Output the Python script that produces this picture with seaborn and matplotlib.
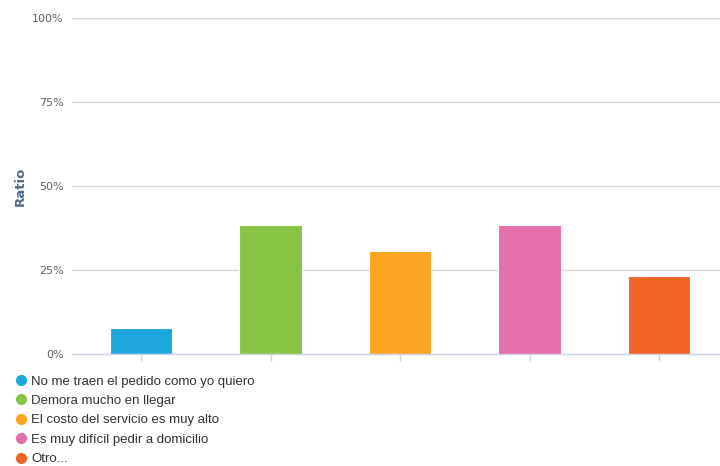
import pandas as pd
import seaborn as sns
import matplotlib.pyplot as plt
from matplotlib.lines import Line2D
from matplotlib.ticker import FuncFormatter

# --- DATA ---
categories = [
    'No me traen el pedido como yo quiero',
    'Demora mucho en llegar',
    'El costo del servicio es muy alto',
    'Es muy difícil pedir a domicilio',
    'Otro...',
]
ratios = [0.0769, 0.3846, 0.3077, 0.3846, 0.2308]
colors = ['#1ea7df', '#88c444', '#fba523', '#e46faa', '#ef6325']
y_ticks = [0, 0.25, 0.5, 0.75, 1.0]

df = pd.DataFrame({'Respuesta': categories, 'Ratio': ratios})

sns.set_theme(style='white')
plt.rcParams['font.family'] = ['DejaVu Sans']

fig = plt.figure(figsize=(7.2, 4.66), dpi=100)
ax = fig.add_axes([0.1, 1 - 354 / 466, 0.9, (354 - 18) / 466])

sns.barplot(data=df, x='Respuesta', y='Ratio', hue='Respuesta',
            palette=colors, legend=False, width=0.48, saturation=1, ax=ax,
            edgecolor='white', linewidth=0.8)

ax.set_ylim(0, 1)
ax.set_xlim(-0.533, 4.471)
ax.set_yticks(y_ticks)
ax.yaxis.set_major_formatter(FuncFormatter(lambda v, _: f'{v * 100:.0f}%'))
ax.grid(axis='y', color='#d8d8d8', linewidth=1)
ax.set_axisbelow(True)
for side in ['top', 'right', 'left']:
    ax.spines[side].set_visible(False)
ax.spines['bottom'].set_color('#ccd6eb')
ax.spines['bottom'].set_linewidth(1)
ax.set_xticks(range(len(categories)))
ax.set_xticklabels([])
ax.tick_params(axis='x', length=5, color='#ccd6eb', width=1, bottom=True)
ax.tick_params(axis='y', length=0, labelsize=8, labelcolor='#606060', pad=6)
ax.set_xlabel('')
ax.set_ylabel('Ratio', fontsize=9.5, fontweight='bold', color='#4d6a8a', labelpad=4)

# legend below the plot
handles = [Line2D([0], [0], marker='o', linestyle='', markersize=7,
                  markerfacecolor=c, markeredgecolor=c) for c in colors]
fig.legend(handles, categories, loc='upper left', bbox_to_anchor=(0.012, 1 - 370 / 466),
           frameon=False, prop={'family': 'Liberation Sans', 'size': 9.5},
           labelcolor='#333333', handletextpad=0.3,
           labelspacing=0.55, borderaxespad=0, handlelength=1.0)

fig.savefig('out.png', dpi=100)
